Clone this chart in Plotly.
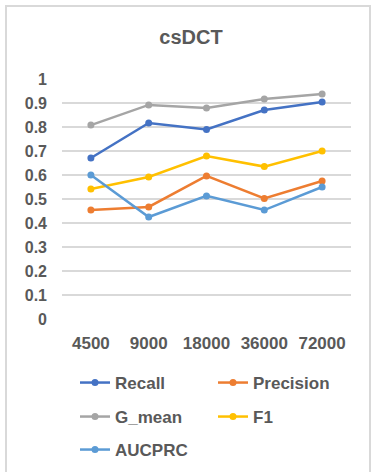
import plotly.graph_objects as go

categories = ["4500", "9000", "18000", "36000", "72000"]
recall = [0.671, 0.817, 0.79, 0.871, 0.904]
precision = [0.454, 0.467, 0.596, 0.502, 0.575]
g_mean = [0.808, 0.892, 0.879, 0.917, 0.938]
f1 = [0.542, 0.592, 0.679, 0.635, 0.70]
aucprc = [0.60, 0.425, 0.513, 0.454, 0.55]
y_ticks = [0, 0.1, 0.2, 0.3, 0.4, 0.5, 0.6, 0.7, 0.8, 0.9, 1]
y_tick_text = ["0", "0.1", "0.2", "0.3", "0.4", "0.5", "0.6", "0.7", "0.8", "0.9", "1"]

series = [
    ("Recall", recall, "#4472C4", "legend"),
    ("Precision", precision, "#ED7D31", "legend"),
    ("G_mean", g_mean, "#A5A5A5", "legend2"),
    ("F1", f1, "#FFC000", "legend2"),
    ("AUCPRC", aucprc, "#5B9BD5", "legend3"),
]

FONT = "Liberation Sans, Arial, sans-serif"
TXT = "#595959"

fig = go.Figure()
for name, vals, color, lg in series:
    fig.add_trace(go.Scatter(
        x=categories, y=vals, name=name, mode="lines+markers",
        line=dict(color=color, width=2.5),
        marker=dict(color=color, size=7),
        legend=lg,
    ))

W, H = 373, 472
L, R, T, B = 62, 22, 79, 153
pw, ph = W - L - R, H - T - B

def px_x(x):
    return (x - L) / pw

def px_y(y):
    return (H - B - y) / ph

legend_common = dict(
    orientation="h", xanchor="left", yanchor="middle",
    xref="container", yref="container",
    font=dict(family=FONT, size=17, color=TXT, weight="bold"),
    entrywidth=93, entrywidthmode="pixels",
    bgcolor="rgba(0,0,0,0)", itemwidth=30,
)

fig.update_layout(
    width=W, height=H,
    margin=dict(l=L, r=R, t=T, b=B, pad=0, autoexpand=False),
    paper_bgcolor="white", plot_bgcolor="white",
    font=dict(family=FONT, color=TXT),
    title=dict(text="<b>csDCT</b>", x=0.512, xref="container", xanchor="center",
               y=1 - 37 / H, yref="container", yanchor="middle",
               font=dict(family=FONT, size=20, color=TXT)),
    xaxis=dict(type="category", range=[-0.5, 4.5], showgrid=False, showline=False,
               zeroline=False, ticks="", ticklabelstandoff=12,
               tickfont=dict(family=FONT, size=17, color=TXT, weight="bold")),
    yaxis=dict(range=[0, 1], tickvals=y_ticks, ticktext=y_tick_text,
               showgrid=True, gridcolor="#D9D9D9", gridwidth=1.5,
               zeroline=False, showline=False, ticks="", ticklabelstandoff=14,
               tickfont=dict(family=FONT, size=16, color=TXT, weight="bold")),
    legend=dict(x=75 / W, y=1 - 383 / H, **legend_common),
    legend2=dict(x=75 / W, y=1 - 417 / H, **legend_common),
    legend3=dict(x=75 / W, y=1 - 450 / H, **legend_common),
    shapes=[dict(type="rect", xref="paper", yref="paper",
                 x0=px_x(6), x1=px_x(370), y0=px_y(490), y1=px_y(6),
                 line=dict(color="#D9D9D9", width=2), fillcolor="rgba(0,0,0,0)",
                 layer="below")],
)

fig.write_html("out.html")
